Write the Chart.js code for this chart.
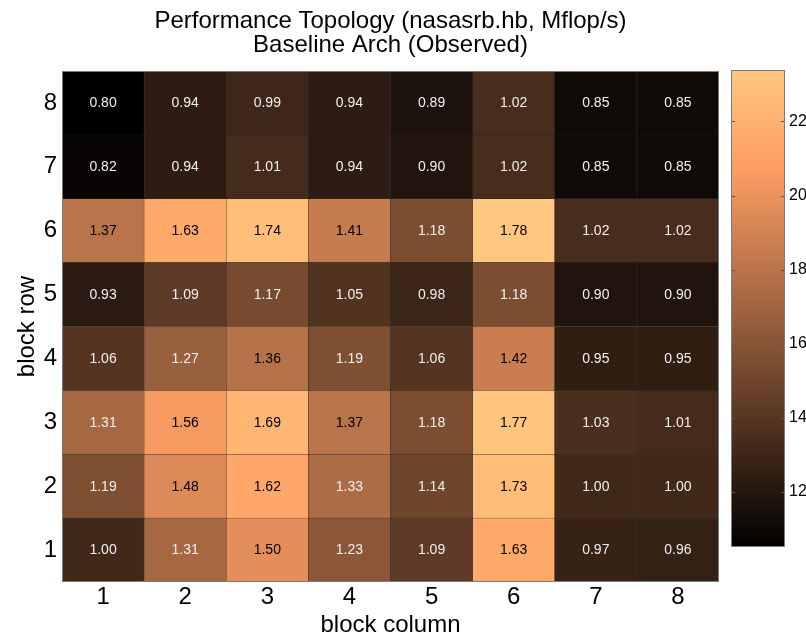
<!DOCTYPE html>
<html><head><meta charset="utf-8">
<script src="https://cdn.jsdelivr.net/npm/chart.js@4.4.1/dist/chart.umd.min.js"></script>
<style>
html,body{margin:0;padding:0;background:#fff;}
#wrap{position:relative;width:806px;height:637px;overflow:hidden;}
#main{position:absolute;left:0;top:0;}
#cbar{position:absolute;left:720px;top:0;}
</style></head><body>
<div id="wrap"><canvas id="main" width="806" height="637"></canvas><canvas id="cbar" width="86" height="637"></canvas></div>
<script>
// ---- data ----
const titleLines = ['Performance Topology (nasasrb.hb, Mflop/s)', 'Baseline Arch (Observed)'];
const xTitle = 'block column';
const yTitle = 'block row';
const colLabels = ['1','2','3','4','5','6','7','8'];
const rowLabels = [1,2,3,4,5,6,7,8];
// speedup relative to 1x1 block, per block row (columns 1..8)
const row1 = [1.00, 1.31, 1.50, 1.23, 1.09, 1.63, 0.97, 0.96];
const row2 = [1.19, 1.48, 1.62, 1.33, 1.14, 1.73, 1.00, 1.00];
const row3 = [1.31, 1.56, 1.69, 1.37, 1.18, 1.77, 1.03, 1.01];
const row4 = [1.06, 1.27, 1.36, 1.19, 1.06, 1.42, 0.95, 0.95];
const row5 = [0.93, 1.09, 1.17, 1.05, 0.98, 1.18, 0.90, 0.90];
const row6 = [1.37, 1.63, 1.74, 1.41, 1.18, 1.78, 1.02, 1.02];
const row7 = [0.82, 0.94, 1.01, 0.94, 0.90, 1.02, 0.85, 0.85];
const row8 = [0.80, 0.94, 0.99, 0.94, 0.89, 1.02, 0.85, 0.85];
const baseMflops = 13.14; // Mflop/s of the 1x1 block
const colorbarTicks = [12, 14, 16, 18, 20, 22];

// ---- helpers ----
const rows = [row1,row2,row3,row4,row5,row6,row7,row8];
const FONT = "'Liberation Sans', Arial, Helvetica, sans-serif";
const all = rows.flat();
const vMin = Math.min(...all), vMax = Math.max(...all);
function copper(t){
  t = Math.max(0, Math.min(1, t));
  const r = Math.min(1, 1.25*t), g = 0.7812*t, b = 0.4975*t;
  return `rgb(${Math.round(r*255)},${Math.round(g*255)},${Math.round(b*255)})`;
}
const norm = v => (v - vMin)/(vMax - vMin);

const datasets = rows.map((vals, i) => ({
  label: 'row ' + rowLabels[i],
  data: colLabels.map(() => [rowLabels[i] - 0.5, rowLabels[i] + 0.5]),
  speedups: vals,
  backgroundColor: vals.map(v => copper(norm(v))),
  borderColor: 'rgba(0,0,0,0.75)',
  borderWidth: 0.5,
  borderSkipped: false,
  categoryPercentage: 1,
  barPercentage: 1,
  grouped: false
}));

const cellText = {
  id: 'cellText',
  afterDatasetsDraw(chart){
    const ctx = chart.ctx;
    ctx.save();
    ctx.font = `14px ${FONT}`;
    ctx.textAlign = 'center';
    ctx.textBaseline = 'middle';
    chart.data.datasets.forEach((ds, i) => {
      chart.getDatasetMeta(i).data.forEach((el, j) => {
        const v = ds.speedups[j];
        ctx.fillStyle = norm(v) >= 0.555 ? '#000000' : '#f0f0f0';
        ctx.fillText(v.toFixed(2), el.x, (el.y + el.base)/2 + 0.5);
      });
    });
    const a = chart.chartArea;
    ctx.strokeStyle = '#7a7a7a';
    ctx.lineWidth = 1;
    ctx.strokeRect(Math.round(a.left)+0.5, Math.round(a.top)+0.5, Math.round(a.right-a.left)-1, Math.round(a.bottom-a.top)-1);
    ctx.restore();
  }
};

new Chart(document.getElementById('main'), {
  type: 'bar',
  data: { labels: colLabels, datasets },
  options: {
    responsive: false, animation: false, events: [],
    layout: { padding: { left: 0, right: 87, top: 0, bottom: 0 } },
    plugins: {
      legend: { display: false },
      tooltip: { enabled: false },
      title: {
        display: true, text: titleLines, color: '#000', fullSize: false,
        font: { family: FONT, size: 24, weight: 'normal', lineHeight: 1.0 },
        padding: { top: 9, bottom: 14 }
      }
    },
    scales: {
      x: {
        type: 'category',
        grid: { display: false, drawTicks: false }, border: { display: false },
        ticks: { color: '#000', font: { family: FONT, size: 24, lineHeight: 1.2 }, padding: 1 },
        title: { display: true, text: xTitle, color: '#000',
          font: { family: FONT, size: 24, lineHeight: 1 }, padding: { top: 0, bottom: 0 } },
        afterFit: s => { s.height = 55; }
      },
      y: {
        type: 'linear', min: 0.5, max: 8.5,
        afterBuildTicks: ax => { ax.ticks = rowLabels.map(v => ({ value: v })); },
        grid: { display: false, drawTicks: false }, border: { display: false },
        ticks: { color: '#000', font: { family: FONT, size: 24 }, padding: 5 },
        title: { display: true, text: yTitle, color: '#000',
          font: { family: FONT, size: 24, lineHeight: 1 }, padding: { top: 15, bottom: 0 } },
        afterFit: s => { s.width = 62; }
      }
    }
  },
  plugins: [cellText]
});

// ---- colorbar ----
const cbMin = vMin * baseMflops, cbMax = vMax * baseMflops;
const cbFrame = {
  id: 'cbFrame',
  afterDatasetsDraw(chart){
    const ctx = chart.ctx, a = chart.chartArea, ys = chart.scales.y;
    ctx.save();
    ctx.strokeStyle = '#555';
    ctx.lineWidth = 1;
    colorbarTicks.forEach(v => {
      const y = Math.round(ys.getPixelForValue(v)) + 0.5;
      ctx.beginPath();
      ctx.moveTo(a.left, y); ctx.lineTo(a.left + 4, y);
      ctx.moveTo(a.right - 4, y); ctx.lineTo(a.right, y);
      ctx.stroke();
    });
    ctx.strokeStyle = '#7a7a7a';
    ctx.strokeRect(Math.round(a.left)+0.5, Math.round(a.top)+0.5, Math.round(a.right-a.left)-1, Math.round(a.bottom-a.top)-1);
    ctx.restore();
  }
};
new Chart(document.getElementById('cbar'), {
  type: 'bar',
  data: { labels: ['Mflop/s'], datasets: [{
    data: [[cbMin, cbMax]],
    backgroundColor: c => {
      const a = c.chart.chartArea;
      if (!a) return copper(0.5);
      const g = c.chart.ctx.createLinearGradient(0, a.bottom, 0, a.top);
      g.addColorStop(0, copper(0)); g.addColorStop(0.8, copper(0.8)); g.addColorStop(1, copper(1));
      return g;
    },
    borderWidth: 0, categoryPercentage: 1, barPercentage: 1
  }]},
  options: {
    responsive: false, animation: false, events: [],
    layout: { padding: { left: 11, right: 0, top: 70, bottom: 90 } },
    plugins: { legend: { display: false }, tooltip: { enabled: false }, title: { display: false } },
    scales: {
      x: { display: false },
      y: {
        position: 'right', min: cbMin, max: cbMax,
        afterBuildTicks: ax => { ax.ticks = colorbarTicks.map(v => ({ value: v })); },
        grid: { display: false, drawTicks: false }, border: { display: false },
        ticks: { color: '#000', font: { family: FONT, size: 16 }, padding: 4 },
        afterFit: s => { s.width = 21; }
      }
    }
  },
  plugins: [cbFrame]
});
</script>
</body></html>
